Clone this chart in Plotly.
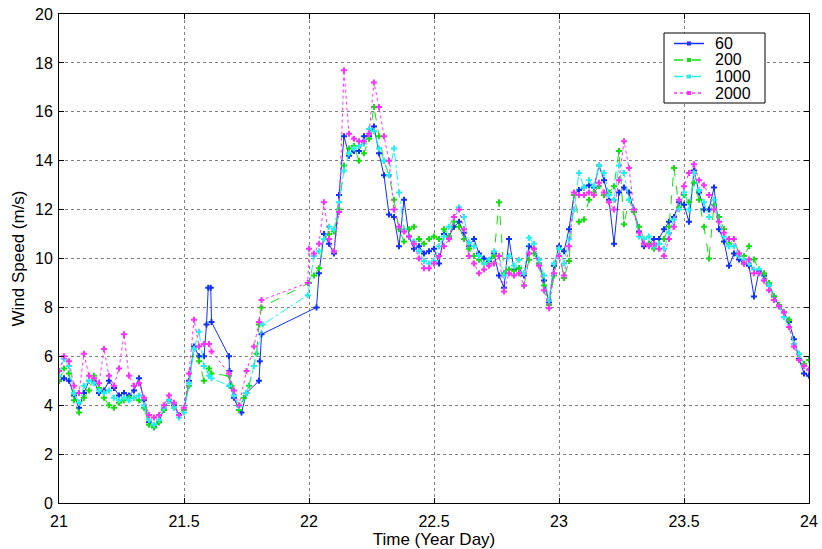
import numpy as np
import plotly.graph_objects as go

# ---------------- data ----------------
# Regular samples 21.00 .. 21.58 (step 0.02)
TIME_A = np.round(21.0 + 0.02 * np.arange(30), 2)
S60_A = [5.0, 5.1, 5.0, 4.4, 3.9, 4.5, 5.0, 5.0, 4.5, 4.6, 5.0, 4.7, 4.4, 4.5, 4.4,
         4.6, 5.1, 4.2, 3.3, 3.1, 3.3, 3.9, 4.2, 4.0, 3.6, 3.8, 5.0, 6.4, 6.0, 6.0]
S200_A = [5.0, 5.5, 5.3, 4.2, 3.7, 4.3, 4.6, 5.2, 4.7, 4.3, 4.0, 3.9, 4.1, 4.2, 4.3,
          4.3, 4.2, 3.9, 3.2, 3.1, 3.3, 3.8, 4.2, 3.9, 3.6, 3.8, 4.8, 6.3, 5.8, 5.0]
S1000_A = [5.2, 5.9, 5.6, 4.5, 4.1, 4.8, 5.0, 4.9, 4.6, 4.5, 4.6, 4.3, 4.2, 4.3, 4.2,
           4.3, 4.4, 4.0, 3.4, 3.2, 3.4, 3.9, 4.2, 3.9, 3.5, 3.7, 4.9, 6.3, 7.0, 5.6]
S2000_A = [5.4, 6.0, 5.8, 4.8, 4.5, 6.1, 5.2, 5.1, 4.9, 6.3, 5.2, 4.8, 5.5, 6.9, 5.2,
           4.8, 4.9, 4.3, 3.6, 3.5, 3.6, 4.0, 4.4, 4.1, 3.6, 3.9, 5.3, 7.5, 6.4, 6.5]

# Irregular samples across the data gap (21.59 .. 22.03)
GAP60_T = [21.59, 21.597, 21.607, 21.61, 21.68, 21.682, 21.685, 21.70, 21.72, 21.73,
           21.75, 21.80, 21.803, 21.81, 22.03]
GAP60_V = [7.3, 8.8, 8.8, 7.4, 6.0, 5.4, 4.8, 4.3, 3.8, 3.7, 4.5, 5.0, 5.8, 6.9, 8.0]
GAP200_T = [21.60, 21.61, 21.68, 21.69, 21.72, 21.74, 21.76, 21.79, 21.80, 21.81, 22.00, 22.02]
GAP200_V = [5.5, 5.3, 5.2, 4.8, 3.8, 4.3, 4.8, 6.1, 7.3, 8.0, 9.0, 9.3]
GAP1000_T = [21.60, 21.61, 21.68, 21.70, 21.72, 21.75, 21.78, 21.815, 21.995, 22.02]
GAP1000_V = [5.2, 5.1, 4.8, 4.4, 3.95, 4.5, 5.6, 7.3, 8.5, 10.1]
GAP2000_T = [21.60, 21.61, 21.68, 21.70, 21.72, 21.75, 21.78, 21.80, 21.81, 21.995, 22.0, 22.02]
GAP2000_V = [6.5, 6.2, 5.3, 4.6, 4.0, 5.4, 6.4, 7.4, 8.3, 9.0, 10.4, 10.2]

# Regular samples 22.04 .. 24.00 (step 0.02)
TIME_B = np.round(22.04 + 0.02 * np.arange(99), 2)
S60_B = [9.4, 11.0, 10.6, 10.2, 12.6, 15.0, 14.2, 14.4, 14.4, 15.0,
         15.0, 15.4, 14.3, 13.4, 11.8, 11.7, 10.5, 12.4, 10.9, 10.4,
         10.5, 10.2, 10.3, 10.4, 9.8, 11.0, 10.9, 11.3, 11.5, 11.05,
         10.5, 10.8, 10.2, 10.0, 9.9, 10.2, 9.3, 8.8, 10.8, 9.55,
         9.6, 9.3, 10.5, 10.4, 9.8, 9.1, 8.2, 9.7, 10.5, 10.3,
         11.2, 12.6, 12.8, 12.9, 13.0, 12.9, 13.8, 13.2, 12.4, 10.6,
         12.7, 12.9, 12.7, 11.9, 11.1, 10.5, 10.6, 10.8, 10.8, 11.2,
         11.5, 11.7, 12.3, 12.2, 11.5, 13.6, 12.7, 12.0, 12.0, 12.9,
         11.2, 10.7, 9.7, 10.2, 9.96, 9.8, 9.7, 8.45, 9.5, 9.3,
         8.9, 8.45, 8.05, 7.8, 7.4, 6.7, 5.9, 5.3, 5.2]
S200_B = [9.6, 10.8, 11.0, 11.1, 12.0, 13.8, 14.5, 14.6, 14.0, 14.3,
          14.9, 16.2, 15.0, 14.0, 13.4, 12.4, 11.2, 10.7, 11.2, 11.3,
          10.8, 10.6, 10.8, 10.9, 10.8, 11.2, 10.9, 11.5, 11.3, 10.8,
          10.4, 10.1, 9.95, 9.8, 9.8, 10.1, 12.3, 9.4, 9.55, 9.5,
          9.6, 8.9, 9.95, 10.2, 9.8, 8.9, 8.1, 9.3, 10.4, 9.2,
          9.9, 12.6, 11.5, 11.6, 12.4, 12.7, 12.95, 12.6, 12.7, 12.95,
          14.4, 11.4, 12.4, 11.9, 11.3, 10.8, 10.6, 10.4, 10.6, 10.8,
          11.3, 13.7, 12.1, 12.6, 12.3, 13.1, 12.4, 11.3, 10.0, 12.2,
          11.7, 11.2, 10.6, 10.8, 10.2, 10.1, 10.5, 9.96, 9.55, 9.4,
          9.0, 8.45, 8.1, 7.8, 7.5, 6.5, 6.1, 5.7, 5.85]
S1000_B = [10.3, 10.8, 11.3, 11.2, 12.3, 13.6, 14.3, 14.5, 14.6, 14.7,
           15.3, 15.2, 14.5, 14.0, 13.4, 14.5, 12.7, 11.2, 10.9, 10.7,
           10.3, 9.9, 9.8, 9.9, 10.5, 10.9, 11.3, 11.7, 12.1, 11.7,
           10.65, 10.5, 10.1, 9.8, 9.95, 10.3, 10.1, 9.3, 10.1, 9.7,
           9.95, 9.4, 10.85, 10.6, 9.95, 9.3, 8.3, 9.8, 10.4, 9.8,
           10.8, 12.0, 13.5, 12.9, 13.2, 12.95, 13.8, 13.5, 12.6, 12.4,
           13.8, 13.5, 12.4, 12.0, 10.9, 10.8, 10.9, 10.5, 10.6, 10.4,
           11.05, 11.6, 12.0, 12.7, 12.0, 13.5, 12.8, 12.3, 11.7, 12.4,
           11.5, 10.9, 10.5, 10.5, 10.1, 9.96, 9.8, 9.55, 9.55, 9.1,
           8.9, 8.3, 8.05, 7.6, 7.2, 6.5, 6.1, 5.6, 5.45]
S2000_B = [10.6, 12.3, 10.8, 10.3, 11.9, 17.7, 15.1, 14.9, 14.8, 14.8,
           15.1, 17.2, 16.2, 15.0, 14.0, 12.0, 11.3, 11.1, 10.9, 10.6,
           10.0, 9.6, 9.6, 9.8, 10.1, 10.5, 10.8, 11.7, 12.0, 11.2,
           10.1, 9.8, 9.4, 9.55, 9.7, 9.8, 10.1, 8.65, 9.4, 9.3,
           9.4, 8.9, 10.2, 10.4, 9.7, 8.7, 7.97, 9.4, 10.1, 9.3,
           10.5, 12.7, 12.6, 12.6, 12.7, 12.6, 13.1, 12.7, 12.3, 12.0,
           13.2, 14.8, 13.7, 12.0, 11.05, 10.6, 10.5, 10.6, 10.4, 10.1,
           10.8, 11.3, 12.4, 12.95, 13.5, 13.85, 13.2, 13.0, 12.6, 12.0,
           11.5, 11.05, 10.8, 10.8, 10.2, 9.8, 9.96, 9.4, 9.4, 9.1,
           8.7, 8.3, 8.05, 7.8, 7.2, 6.4, 5.85, 5.6, 5.45]

SERIES = [
    ("60", S60_A, GAP60_T, GAP60_V, S60_B),
    ("200", S200_A, GAP200_T, GAP200_V, S200_B),
    ("1000", S1000_A, GAP1000_T, GAP1000_V, S1000_B),
    ("2000", S2000_A, GAP2000_T, GAP2000_V, S2000_B),
]
COLORS = {"60": "#1030ff", "200": "#10e010", "1000": "#20f0f0", "2000": "#ff30ff"}
DASHES = {"60": "solid", "200": "dash", "1000": "dashdot", "2000": "dot"}

X_TICKS = [21, 21.5, 22, 22.5, 23, 23.5, 24]
Y_TICKS = [0, 2, 4, 6, 8, 10, 12, 14, 16, 18, 20]

# ---------------- figure ----------------
FONT = "Liberation Sans, Arial, sans-serif"
W, H = 822, 549
ML, MR, MT, MB = 59, 13, 14, 46
PW, PH = W - ML - MR, H - MT - MB

fig = go.Figure()
for name, a, gt, gv, b in SERIES:
    t = list(TIME_A) + list(gt) + list(TIME_B)
    v = list(a) + list(gv) + list(b)
    fig.add_trace(go.Scatter(
        x=t, y=v, name=name, mode="lines+markers", showlegend=False,
        line=dict(color=COLORS[name], width=1, dash=DASHES[name]),
        marker=dict(symbol="cross", size=5, color=COLORS[name]),
    ))

axis_common = dict(
    showline=True, linecolor="black", linewidth=1, mirror="ticks",
    ticks="inside", ticklen=5, tickcolor="black", automargin=False,
    showgrid=True, gridcolor="#808080", griddash="dot", gridwidth=1,
    zeroline=False, tickfont=dict(family=FONT, size=16, color="black"),
)
fig.update_xaxes(range=[21, 24], tickvals=X_TICKS, ticktext=[str(v) for v in X_TICKS],
                 ticklabelstandoff=4,
                 title=dict(text="Time (Year Day)", font=dict(family=FONT, size=17, color="black"),
                            standoff=5),
                 **axis_common)
fig.update_yaxes(range=[0, 20], tickvals=Y_TICKS, ticklabelstandoff=2,
                 title=dict(text="Wind Speed (m/s)", font=dict(family=FONT, size=17, color="black"),
                            standoff=6),
                 **axis_common)

# ---- legend box drawn in paper space (MATLAB-style compact legend) ----
def px(xp):
    return (xp - ML) / PW

def py(yp):
    return (H - MB - yp) / PH

BOX = (664, 33, 765, 103)  # left, top, right, bottom in pixels
shapes = [dict(type="rect", xref="paper", yref="paper",
               x0=px(BOX[0]), x1=px(BOX[2]), y0=py(BOX[3]), y1=py(BOX[1]),
               line=dict(color="black", width=1), fillcolor="white", layer="above")]
annotations = []
for i, (name, *_rest) in enumerate(SERIES):
    yc = BOX[1] + 10.5 + i * 16.5
    shapes.append(dict(type="line", xref="paper", yref="paper",
                       x0=px(BOX[0] + 10), x1=px(BOX[0] + 40), y0=py(yc), y1=py(yc),
                       line=dict(color=COLORS[name], width=1.5, dash=DASHES[name]),
                       layer="above"))
    cx = BOX[0] + 25
    shapes.append(dict(type="rect", xref="paper", yref="paper",
                       x0=px(cx - 2), x1=px(cx + 2), y0=py(yc + 2), y1=py(yc - 2),
                       line=dict(color=COLORS[name], width=0), fillcolor=COLORS[name],
                       layer="above"))
    annotations.append(dict(text=name, xref="paper", yref="paper",
                            x=px(BOX[0] + 49), y=py(yc), xanchor="left", yanchor="middle",
                            showarrow=False,
                            font=dict(family=FONT, size=16, color="black")))

fig.update_layout(
    width=W, height=H,
    margin=dict(l=ML, r=MR, t=MT, b=MB),
    paper_bgcolor="white", plot_bgcolor="white",
    font=dict(family=FONT, size=16, color="black"),
    shapes=shapes, annotations=annotations,
    showlegend=False,
)
fig.write_html("out.html")
